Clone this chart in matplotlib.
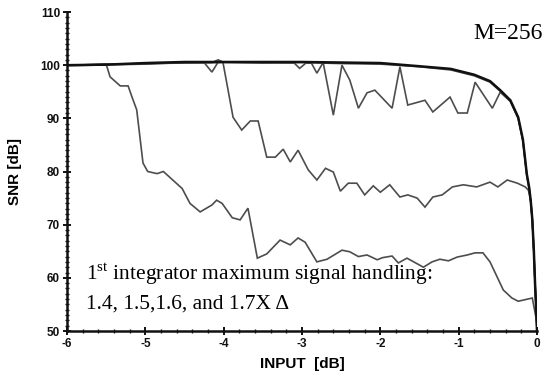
import numpy as np
import matplotlib
matplotlib.use("Agg")
import matplotlib.pyplot as plt
from matplotlib.ticker import MultipleLocator

plt.rcParams['axes.unicode_minus'] = False
plt.rcParams['mathtext.fontset'] = 'custom'
plt.rcParams['mathtext.rm'] = 'Liberation Serif'

# ideal modulator (no integrator clipping)
x_ideal = [-6, -5.5, -5, -4.5, -4, -3, -2, -1.75, -1.5, -1.1, -0.8, -0.6, -0.47, -0.34,
           -0.24, -0.18, -0.13, -0.1, -0.08, -0.06, -0.04, -0.025, -0.01, 0]
snr_ideal = [100, 100.1, 100.4, 100.6, 100.6, 100.6, 100.4, 100.1, 99.8, 99.3, 98.2, 97, 95.3, 93.4,
             90.2, 86, 79.5, 77, 74.5, 71, 65, 59, 54, 50]

# 1.4X delta
x_14 = [-6, -5.6, -5.5, -5.45, -5.32, -5.22, -5.17, -5.11, -5.03, -4.97, -4.85, -4.77, -4.65,
        -4.53, -4.43, -4.3, -4.15, -4.09, -4.02, -3.89, -3.79, -3.69, -3.57, -3.45, -3.28, -3.15,
        -3.05, -2.96, -2.81, -2.68, -2.49, -2.39, -2.28, -2.17, -2.04, -1.97, -1.85, -1.77, -1.66,
        -1.45, -1.34, -1.24, -1.13, -1.02, -0.89, -0.79, -0.69, -0.6, -0.51, -0.43, -0.32, -0.24,
        -0.06, 0]
snr_14 = [100, 100.1, 100.2, 97.8, 96.1, 96.1, 94, 91.6, 81.6, 80, 79.6, 80, 78.4,
          76.8, 74, 72.4, 73.7, 74.6, 74, 71.3, 70.9, 73.1, 63.7, 64.5, 67.1, 66.2,
          67.5, 66.7, 63, 63.5, 65.2, 64.9, 64, 64.3, 63.4, 63.8, 64.1, 62.8, 63.7,
          62, 63, 63.5, 63.2, 63.9, 64.3, 64.7, 64.7, 63, 60.2, 57.7, 56.2, 55.6,
          56.2, 51.5]

# 1.5X delta
x_15 = [-6, -5, -4.5, -4.15, -4.07, -4.01, -3.88, -3.77, -3.66, -3.56, -3.45, -3.34, -3.24,
        -3.15, -3.05, -2.92, -2.81, -2.7, -2.6, -2.51, -2.41, -2.3, -2.2, -2.09, -2.0, -1.88,
        -1.75, -1.65, -1.53, -1.43, -1.33, -1.21, -1.08, -0.94, -0.77, -0.6, -0.5, -0.38, -0.25,
        -0.15, -0.11, -0.08, -0.06, -0.04, -0.025, -0.01, 0]
snr_15 = [100, 100.3, 100.5, 100.5, 101, 100.6, 90.2, 87.8, 89.5, 89.5, 82.7, 82.7, 84.2,
          81.8, 84, 80.3, 78.4, 80.6, 79.9, 76.3, 77.8, 77.8, 75.6, 77.3, 76.1, 77.5,
          75.2, 75.6, 75, 73.3, 75.2, 75.6, 77.1, 77.5, 77.1, 78, 77.1, 78.4, 77.8,
          77.1, 76.5, 74.5, 71, 65, 59, 54, 50.5]

# 1.6X delta
x_16 = [-6, -5, -4, -3.5, -3.1, -3.03, -2.95, -2.88, -2.81, -2.73, -2.6, -2.49, -2.39, -2.28,
        -2.17, -2.07, -1.85, -1.75, -1.65, -1.43, -1.33, -1.11, -1.01, -0.89, -0.79, -0.57,
        -0.47, -0.34, -0.24, -0.18, -0.13, -0.1, -0.08, -0.06, -0.04, -0.025, -0.01, 0]
snr_16 = [100, 100.3, 100.5, 100.5, 100.4, 99.4, 100.4, 100.4, 98.5, 100.5, 90.6, 100, 97.2, 91.9,
          94.8, 95.3, 91.9, 99.7, 92.5, 93.4, 91.2, 94, 91, 91, 96.8, 91.9,
          94.9, 93.2, 90, 85.8, 79.3, 76.8, 74.3, 70.8, 64.8, 58.8, 53.8, 50]

# 1.7X delta
x_17 = [-6, -5, -4.5, -4.25, -4.15, -4.07, -3.5, -3, -2.5, -2, -1.5, -1.1, -0.8, -0.6, -0.47,
        -0.34, -0.24, -0.18, -0.13, -0.1, -0.08, -0.06, -0.04, -0.025, -0.01, 0]
snr_17 = [99.9, 100.2, 100.5, 100.5, 98.7, 100.6, 100.4, 100.5, 100.3, 100.2, 99.7, 99.1, 98, 96.8, 95.1,
          93.2, 90, 85.8, 79.3, 76.8, 74.3, 70.8, 64.8, 58.8, 53.8, 50]

fig = plt.figure(figsize=(5.47, 3.79), dpi=100)
ax = fig.add_axes([67 / 547, 1 - 331 / 379, 470 / 547, 319 / 379])

gray = '#4d4d4d'
for xs, ys in [(x_14, snr_14), (x_15, snr_15), (x_16, snr_16), (x_17, snr_17)]:
    ax.plot(xs, ys, color=gray, lw=1.2, solid_joinstyle='miter')
ax.plot(x_ideal, snr_ideal, color='#111111', lw=1.8)

ax.set_xlim(-6, 0)
ax.set_ylim(50, 110)
ax.xaxis.set_major_locator(MultipleLocator(1))
ax.xaxis.set_minor_locator(MultipleLocator(0.2))
ax.yaxis.set_major_locator(MultipleLocator(10))
ax.yaxis.set_minor_locator(MultipleLocator(1))

for s in ['top', 'right']:
    ax.spines[s].set_visible(False)
for s in ['left', 'bottom']:
    ax.spines[s].set_linewidth(1.8)
    ax.spines[s].set_color('#111111')

ax.tick_params(which='major', direction='inout', length=6, width=1.4, pad=2, colors='#111111')
ax.tick_params(which='minor', direction='inout', length=3, width=1.0, colors='#111111')
for lab in ax.get_xticklabels() + ax.get_yticklabels():
    lab.set_fontfamily('Liberation Sans')
    lab.set_fontweight('bold')
    lab.set_fontsize(8.5)

ax.set_xlabel('INPUT  [dB]', fontfamily='Liberation Sans', fontweight='bold', fontsize=11)
ax.set_ylabel('SNR [dB]', fontfamily='Liberation Sans', fontweight='bold', fontsize=11)
ax.xaxis.set_label_coords(0.5, -0.08)
ax.yaxis.set_label_coords(-0.095, 0.5)

ax.text(0.077, 104.9, 'M=256', fontfamily='Liberation Serif', fontsize=17,
        ha='right', va='baseline', clip_on=False)
ax.text(-5.76, 59.6, r'1$^{\mathrm{st}}$ integrator maximum signal handling:',
        fontfamily='Liberation Serif', fontsize=15.5, ha='left', va='baseline')
ax.text(-5.76, 54.3, '1.4, 1.5,1.6, and 1.7X \u0394',
        fontfamily='Liberation Serif', fontsize=15.5, ha='left', va='baseline')

fig.savefig('out.png', dpi=100)
